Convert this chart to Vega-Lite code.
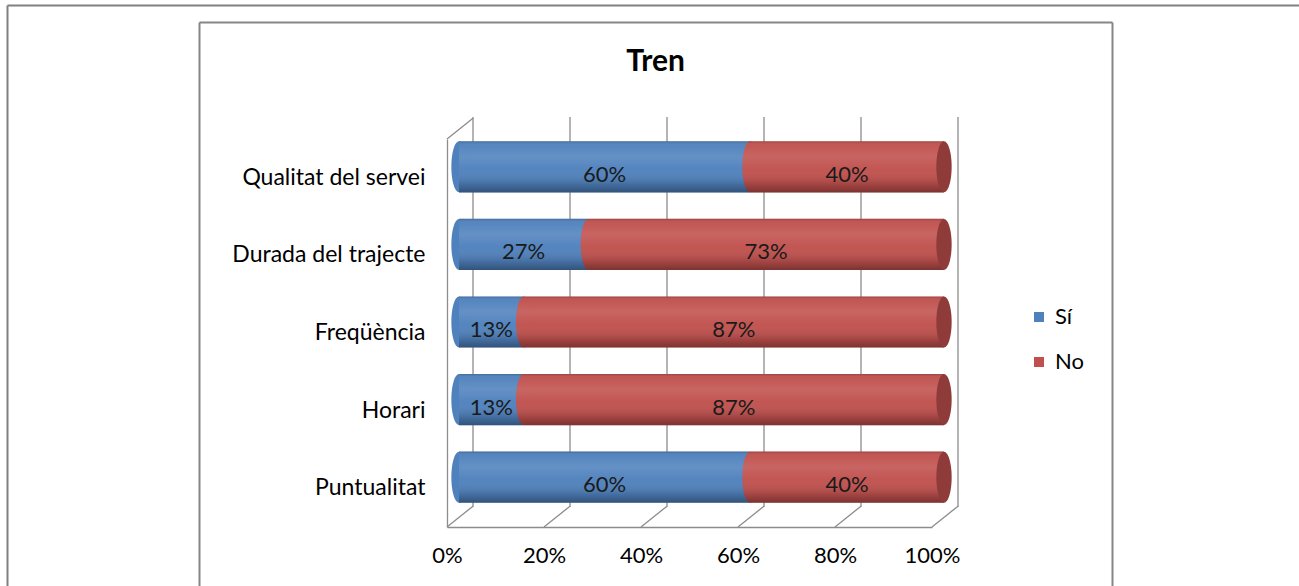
{
  "$schema": "https://vega.github.io/schema/vega-lite/v6.json",
  "width": 913,
  "height": 564,
  "autosize": {"type": "none"},
  "padding": {"left": 199, "top": 22, "right": 187, "bottom": 0},
  "background": "white",
  "config": {"view": {"stroke": null}, "font": "Lato"},
  "title": {"text": "Tren", "fontSize": 30, "font": "Lato", "fontWeight": "bold", "anchor": "middle", "frame": "group", "color": "#000000", "offset": -96, "baseline": "alphabetic"},
  "datasets": {
    "survey": [
      {"cat": "Qualitat del servei", "resp": "Sí", "pct": 0.6},
      {"cat": "Qualitat del servei", "resp": "No", "pct": 0.4},
      {"cat": "Durada del trajecte", "resp": "Sí", "pct": 0.2667},
      {"cat": "Durada del trajecte", "resp": "No", "pct": 0.7333},
      {"cat": "Freqüència", "resp": "Sí", "pct": 0.1333},
      {"cat": "Freqüència", "resp": "No", "pct": 0.8667},
      {"cat": "Horari", "resp": "Sí", "pct": 0.1333},
      {"cat": "Horari", "resp": "No", "pct": 0.8667},
      {"cat": "Puntualitat", "resp": "Sí", "pct": 0.6},
      {"cat": "Puntualitat", "resp": "No", "pct": 0.4}
    ],
    "ticks": [{"v": 0}, {"v": 0.2}, {"v": 0.4}, {"v": 0.6}, {"v": 0.8}, {"v": 1}]
  },
  "layer": [
    {
      "data": {"values": [{"k": 0}]},
      "mark": {"type": "point", "opacity": 0},
      "encoding": {
        "x": {"datum": 0, "type": "quantitative", "scale": {"domain": [0, 1], "range": [-192, 1100]},
          "axis": {"orient": "top", "offset": 17, "domain": true, "domainColor": "#808080", "domainWidth": 2, "labels": false, "ticks": false, "grid": false, "title": null}},
        "y": {"datum": 0, "type": "quantitative", "scale": {"domain": [0, 1], "range": [564, -17]},
          "axis": {"orient": "left", "offset": 192, "domain": true, "domainColor": "#808080", "domainWidth": 2, "labels": false, "ticks": false, "grid": false, "title": null}}
      }
    },
    {
      "data": {"values": [{"k": 0}]},
      "mark": {"type": "point", "opacity": 0},
      "encoding": {
        "x": {"datum": 0, "type": "quantitative", "scale": {"domain": [0, 1], "range": [0, 913]},
          "axis": {"orient": "top", "offset": 0, "domain": true, "domainColor": "#868686", "domainWidth": 2, "labels": false, "ticks": false, "grid": false, "title": null}},
        "y": {"datum": 0, "type": "quantitative", "scale": {"domain": [0, 1], "range": [620, 0]},
          "axis": {"orient": "left", "offset": 0, "domain": true, "domainColor": "#868686", "domainWidth": 2, "labels": false, "ticks": false, "grid": false, "title": null}}
      }
    },
    {
      "data": {"values": [{"k": 0}]},
      "mark": {"type": "point", "opacity": 0},
      "encoding": {
        "y": {"datum": 0, "type": "quantitative", "scale": {"domain": [0, 1], "range": [620, 0]},
          "axis": {"orient": "right", "offset": 0, "domain": true, "domainColor": "#868686", "domainWidth": 2, "labels": false, "ticks": false, "grid": false, "title": null}}
      }
    },
    {
      "layer": [
        {
          "data": {"name": "ticks"},
          "mark": {"type": "point", "shape": "M0,0L0,-1", "size": 608400, "filled": false, "stroke": "#8c8c8c", "strokeWidth": 1.3, "opacity": 1, "xOffset": 26, "yOffset": 18.75},
          "encoding": {
            "x": {"field": "v", "type": "quantitative"},
            "y": {"datum": "Puntualitat", "type": "nominal"}
          }
        },
        {
          "data": {"name": "ticks"},
          "mark": {"type": "point", "shape": "M0,0L1,-0.8", "size": 2704, "filled": false, "stroke": "#8c8c8c", "strokeWidth": 1.3, "opacity": 1, "yOffset": 38.75},
          "encoding": {
            "x": {"field": "v", "type": "quantitative"},
            "y": {"datum": "Puntualitat", "type": "nominal"}
          }
        },
        {
          "data": {"name": "ticks"},
          "transform": [{"filter": "datum.v == 0"}],
          "mark": {"type": "point", "shape": "M0,0L1,-0.8", "size": 2704, "filled": false, "stroke": "#8c8c8c", "strokeWidth": 1.3, "opacity": 1, "yOffset": -38.75},
          "encoding": {
            "x": {"field": "v", "type": "quantitative"},
            "y": {"datum": "Qualitat del servei", "type": "nominal"}
          }
        },
        {
          "data": {"name": "survey"},
          "transform": [{"stack": "pct", "groupby": ["cat"], "sort": [{"field": "resp", "order": "descending"}], "as": ["x0", "x1"]}],
          "layer": [
            {
              "mark": {"type": "bar", "xOffset": 12, "x2Offset": 12, "yOffset": -11},
              "encoding": {
                "x": {"field": "x0", "type": "quantitative",
                  "scale": {"domain": [0, 1], "range": [248, 733]},
                  "axis": {"orient": "bottom", "offset": -59, "values": [0, 0.2, 0.4, 0.6, 0.8, 1], "format": ".0%", "labelFlush": false, "labelOverlap": false, "domain": true, "domainColor": "#8c8c8c", "domainWidth": 1.3, "ticks": false, "grid": false, "labelPadding": 18, "labelFontSize": 22, "labelFont": "Lato", "labelColor": "#000000", "title": null}},
                "x2": {"field": "x1"},
                "y": {"field": "cat", "type": "nominal",
                  "sort": null,
                  "scale": {"domain": ["Qualitat del servei", "Durada del trajecte", "Freqüència", "Horari", "Puntualitat"], "range": [117, 505], "paddingInner": 0.34, "paddingOuter": 0.17},
                  "axis": {"orient": "left", "offset": -248, "domain": true, "domainColor": "#8c8c8c", "domainWidth": 1.3, "ticks": false, "grid": false, "labelPadding": 22, "labelFontSize": 23, "labelLimit": 400, "labelFont": "Lato", "labelColor": "#000000", "title": null}},
                "color": {"field": "resp", "type": "nominal",
                  "scale": {"domain": ["Sí", "No"], "range": ["#4f81bd", "#c0504d"]},
                  "legend": {"orient": "none", "legendX": 829, "legendY": 284, "title": null, "symbolType": "square", "symbolSize": 100, "symbolStrokeWidth": 0, "labelFontSize": 22, "labelFont": "Lato", "labelColor": "#000000", "rowPadding": 23, "labelOffset": 5}}
              }
            },
            {
              "mark": {"type": "point", "shape": "M0,-1A0.3,1,0,1,1,0,1A0.3,1,0,1,1,0,-1Z", "size": 2601, "filled": true, "opacity": 1, "strokeWidth": 0, "xOffset": 12, "yOffset": -11},
              "encoding": {
                "x": {"field": "x0", "type": "quantitative"},
                "y": {"field": "cat", "type": "nominal", "sort": null},
                "color": {"field": "resp", "type": "nominal", "legend": null}
              }
            },
            {
              "mark": {"type": "bar", "xOffset": 12, "x2Offset": 12, "yOffset": -11,
                "color": {"gradient": "linear", "x1": 0, "y1": 0, "x2": 0, "y2": 1,
                  "stops": [
                    {"offset": 0, "color": "rgba(0,0,0,0.18)"},
                    {"offset": 0.08, "color": "rgba(255,255,255,0.04)"},
                    {"offset": 0.3, "color": "rgba(255,255,255,0.12)"},
                    {"offset": 0.55, "color": "rgba(255,255,255,0.03)"},
                    {"offset": 0.85, "color": "rgba(0,0,0,0.16)"},
                    {"offset": 1, "color": "rgba(0,0,0,0.36)"}
                  ]}},
              "encoding": {
                "x": {"field": "x0", "type": "quantitative"},
                "x2": {"field": "x1"},
                "y": {"field": "cat", "type": "nominal", "sort": null}
              }
            },
            {
              "transform": [{"filter": "datum.resp == 'No'"}],
              "mark": {"type": "point", "shape": "M0,-1A0.3,1,0,1,1,0,1A0.3,1,0,1,1,0,-1Z", "size": 2601, "filled": true, "opacity": 1, "strokeWidth": 0, "color": "#8e3b39", "xOffset": 12, "yOffset": -11},
              "encoding": {
                "x": {"field": "x1", "type": "quantitative"},
                "y": {"field": "cat", "type": "nominal", "sort": null}
              }
            },
            {
              "transform": [{"fold": ["x0", "x1"], "as": ["k", "v"]}],
              "mark": {"type": "text", "font": "Lato", "fontSize": 22, "color": "#1a1a1a", "baseline": "middle", "align": "center", "xOffset": 12, "yOffset": -3},
              "encoding": {
                "x": {"aggregate": "mean", "field": "v", "type": "quantitative", "stack": null},
                "y": {"field": "cat", "type": "nominal", "sort": null},
                "detail": {"field": "resp", "type": "nominal"},
                "text": {"field": "pct", "type": "quantitative", "format": ".0%"}
              }
            }
          ]
        }
      ]
    }
  ],
  "resolve": {"scale": {"x": "independent", "y": "independent"}, "axis": {"x": "independent", "y": "independent"}}
}
